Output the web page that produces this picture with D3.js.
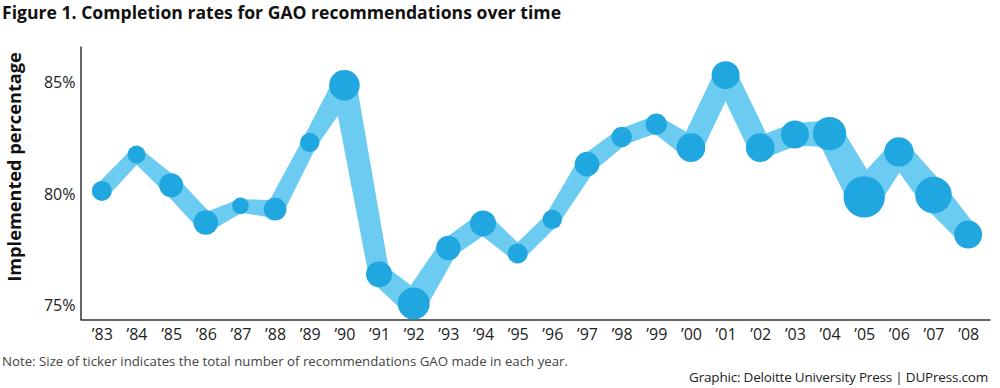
<!DOCTYPE html>
<html>
<head>
<meta charset="utf-8">
<script src="https://cdn.jsdelivr.net/npm/d3@7"></script>
<style>
  body { margin: 0; background: #fff; }
  #chart { width: 1000px; height: 388px; }
  text { font-family: "Open Sans", "Noto Sans", sans-serif; }
</style>
</head>
<body>
<div id="chart"></div>
<script>
const years = ['83', '84', '85', '86', '87', '88', '89', '90', '91', '92', '93', '94', '95',
    '96', '97', '98', '99', '00', '01', '02', '03', '04', '05', '06', '07', '08'];

// implemented percentage per year
const rates = [80.15, 81.78, 80.40, 78.73, 79.48, 79.33, 82.32, 84.89, 76.41, 75.10, 77.59, 78.69, 77.34,
    78.87, 81.35, 82.57, 83.14, 82.09, 85.34, 82.09, 82.68, 82.72, 79.88, 81.90, 79.96, 78.19];

// total recommendations made (read from ticker size, approximate)
const recommendations = [1000, 810, 1440, 1510, 690, 1280, 940, 2340, 1690, 2560, 1510, 1690, 1000,
    940, 1510, 1060, 1140, 2040, 1960, 2040, 1960, 2790, 4280, 2160, 3350, 1960];

const yTicks = [75, 80, 85];

document.addEventListener('DOMContentLoaded', function() {
    drawChart();
});

function drawChart() {
    const width = 1000, height = 388;

    const svg = d3.select('#chart')
        .append('svg')
        .attr('width', width)
        .attr('height', height);

    const data = years.map((yr, i) => ({ year: yr, rate: rates[i], count: recommendations[i] }));

    const x = d3.scalePoint()
        .domain(years)
        .range([80, 990])
        .padding(0.63);

    const y = d3.scaleLinear()
        .domain([74.38, 86.65])
        .range([319.5, 46]);

    const r = d3.scaleSqrt()
        .domain([0, 4000])
        .range([0, 20]);

    // title
    svg.append('text')
        .attr('x', 2)
        .attr('y', 19)
        .attr('font-size', 17.6)
        .attr('font-weight', 'bold')
        .attr('fill', '#111')
        .text('Figure 1. Completion rates for GAO recommendations over time');

    // y axis
    const yAxis = svg.append('g')
        .attr('transform', 'translate(80.5,0)')
        .call(d3.axisLeft(y).tickValues(yTicks).tickSize(0).tickSizeOuter(0).tickPadding(5)
            .tickFormat(d => d + '%'));
    yAxis.select('.domain').attr('stroke', '#333').attr('stroke-width', 1.5);
    yAxis.selectAll('.tick text')
        .attr('font-size', 16)
        .attr('fill', '#222')
        .attr('font-family', '"Open Sans", sans-serif');

    // x axis
    const xAxis = svg.append('g')
        .attr('transform', 'translate(0,319.5)')
        .call(d3.axisBottom(x).tickSize(0).tickSizeOuter(0).tickPadding(9)
            .tickFormat(d => '\u2019' + d));
    xAxis.select('.domain').attr('stroke', '#333').attr('stroke-width', 1.5);
    xAxis.selectAll('.tick text')
        .attr('font-size', 16)
        .attr('fill', '#222')
        .attr('font-family', '"Open Sans", sans-serif');

    svg.append('text')
        .attr('transform', 'translate(21,167) rotate(-90)')
        .attr('text-anchor', 'middle')
        .attr('font-size', 18.2)
        .attr('font-weight', 'bold')
        .attr('fill', '#111')
        .text('Implemented percentage');

    // band: one tapered quad per pair of years
    const segs = d3.pairs(data).map(([a, b]) => {
        const x0 = x(a.year), y0 = y(a.rate), x1 = x(b.year), y1 = y(b.rate);
        const len = Math.hypot(x1 - x0, y1 - y0);
        const nx = -(y1 - y0) / len, ny = (x1 - x0) / len;
        const w0 = r(a.count) * 0.8, w1 = r(b.count) * 0.8;
        return [
            [x0 + nx * w0, y0 + ny * w0],
            [x1 + nx * w1, y1 + ny * w1],
            [x1 - nx * w1, y1 - ny * w1],
            [x0 - nx * w0, y0 - ny * w0]
        ];
    });

    svg.append('g')
        .selectAll('polygon')
        .data(segs)
        .enter()
        .append('polygon')
        .attr('points', d => d.map(p => p.join(',')).join(' '))
        .attr('fill', '#6bcbf1');

    svg.append('g')
        .selectAll('circle')
        .data(data)
        .enter()
        .append('circle')
        .attr('cx', d => x(d.year))
        .attr('cy', d => y(d.rate))
        .attr('r', d => r(d.count))
        .attr('fill', '#21a7df');

    // footer
    svg.append('text')
        .attr('x', 2)
        .attr('y', 366)
        .attr('font-size', 13.5)
        .attr('fill', '#444')
        .attr('textLength', 566)
        .attr('lengthAdjust', 'spacingAndGlyphs')
        .text('Note: Size of ticker indicates the total number of recommendations GAO made in each year.');

    svg.append('text')
        .attr('x', 988)
        .attr('y', 382)
        .attr('text-anchor', 'end')
        .attr('font-size', 13.5)
        .attr('letter-spacing', -0.2)
        .attr('fill', '#222')
        .text('Graphic: Deloitte University Press  |  DUPress.com');
}
</script>
</body>
</html>
